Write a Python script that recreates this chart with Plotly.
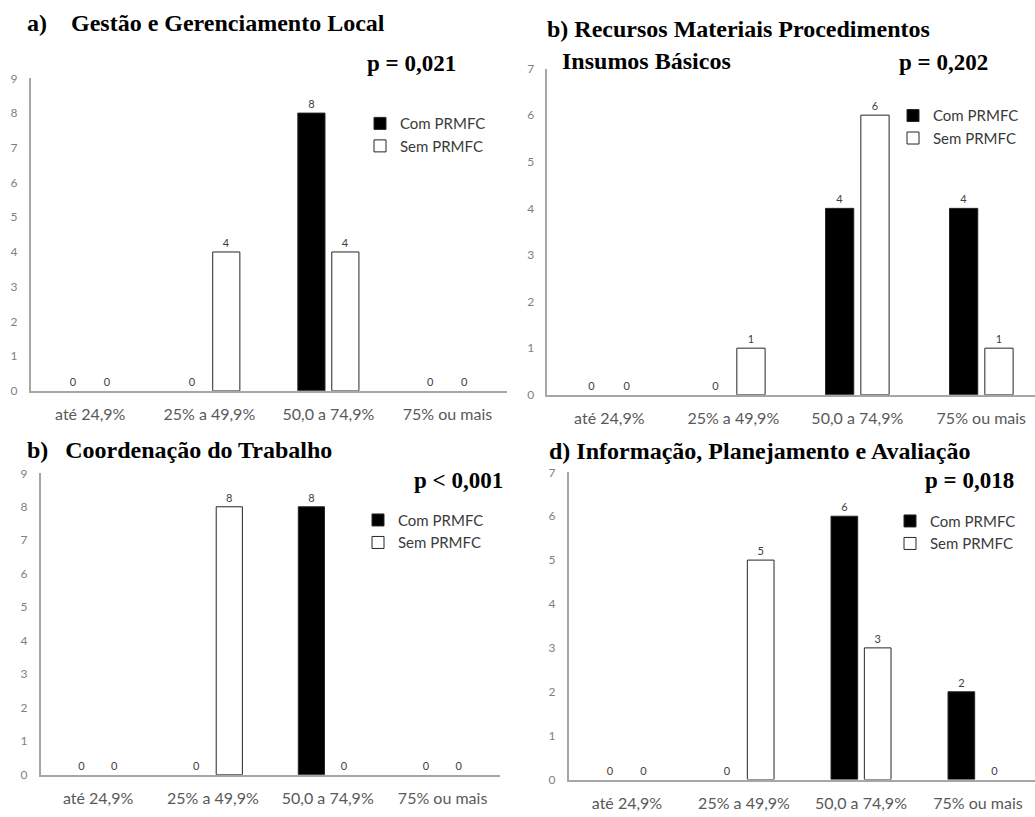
import plotly.graph_objects as go

W, H = 1035, 817

categories = ["até 24,9%", "25% a 49,9%", "50,0 a 74,9%", "75% ou mais"]

a_com = [0, 0, 8, 0]
a_sem = [0, 4, 4, 0]
b_com = [0, 0, 4, 4]
b_sem = [0, 1, 6, 1]
c_com = [0, 0, 8, 0]
c_sem = [0, 8, 0, 0]
d_com = [0, 0, 6, 2]
d_sem = [0, 5, 3, 0]

series_names = ["Com PRMFC", "Sem PRMFC"]

titles = [
    ("a)\u00a0\u00a0\u00a0 Gestão e Gerenciamento Local", 25, 15),
    ("b) Recursos Materiais Procedimentos", 545, 21),
    ("Insumos Básicos", 560, 54),
    ("b)\u00a0\u00a0\u2009Coordenação do Trabalho", 25, 450),
    ("d) Informação, Planejamento e Avaliação", 547, 451),
]
pvalues = [
    ("p = 0,021", 365, 57),
    ("p = 0,202", 897, 56),
    ("p < 0,001", 412, 481),
    ("p = 0,018", 923, 481),
]

def px(x):
    return x / W

def py(y):
    return 1 - y / H

panels = [
    # (com, sem, xaxis id, yaxis id, legend id, xdomain px, ydomain px (bottom, top), ymax, xrange_end, legend pos)
    (a_com, a_sem, "x", "y", "legend", (30.7, 507), (390, 71.7), 9, 3.5, (360, 129)),
    (b_com, b_sem, "x2", "y2", "legend2", (547.3, 1035), (394, 61.7), 7, 3.433, (893, 121)),
    (c_com, c_sem, "x3", "y3", "legend3", (40.7, 500), (781, 474), 9, 3.5, (358, 533)),
    (d_com, d_sem, "x4", "y4", "legend4", (568.5, 1035), (786, 473), 7, 3.487, (890, 534)),
]

fig = go.Figure()

sans = "Lato, Open Sans, sans-serif"
text_font = dict(family=sans, size=11, color="#404040")

layout = dict(
    width=W, height=H,
    margin=dict(l=0, r=0, t=0, b=0),
    paper_bgcolor="white", plot_bgcolor="white",
    barmode="group", bargap=0.43, bargroupgap=0.2,
    font=dict(family=sans),
)

for i, (com, sem, xa, ya, lg, xd, yd, ymax, xend, lpos) in enumerate(panels):
    for name, vals, fill in ((series_names[0], com, "black"), (series_names[1], sem, "white")):
        # non-zero points first so the legend symbol takes a visible outline;
        # the axis order is fixed by categoryarray below
        order = sorted(range(len(vals)), key=lambda k: vals[k] == 0)
        xs = [categories[k] for k in order]
        ys = [vals[k] for k in order]
        fig.add_trace(go.Bar(
            x=xs, y=ys, name=name,
            marker=dict(color=fill,
                        line=dict(color="#262626",
                                  width=[1 if v > 0 else 0 for v in ys])),
            text=[str(v) for v in ys], textposition="outside",
            textfont=text_font, cliponaxis=False,
            xaxis=xa, yaxis=ya, legend=lg, showlegend=True,
        ))
    xkey = "xaxis" if xa == "x" else "xaxis" + xa[1:]
    ykey = "yaxis" if ya == "y" else "yaxis" + ya[1:]
    layout[xkey] = dict(
        domain=[px(xd[0]), min(1.0, px(xd[1]))], anchor=ya,
        type="category", categoryorder="array", categoryarray=categories,
        range=[-0.5, xend], showline=True, linecolor="#a6a6a6", linewidth=1.5,
        showgrid=False, zeroline=False, ticks="",
        tickfont=dict(family=sans, size=16, color="#595959"),
        ticklabelstandoff=8, fixedrange=True,
    )
    layout[ykey] = dict(
        domain=[py(yd[0]), py(yd[1])], anchor=xa,
        range=[0, ymax], dtick=1, showline=True, linecolor="#a6a6a6", linewidth=1.5,
        showgrid=False, zeroline=False, ticks="",
        tickfont=dict(family=sans, size=12, color="#7f7f7f"),
        ticklabelstandoff=9, fixedrange=True,
    )
    layout[lg] = dict(
        x=px(lpos[0]), y=py(lpos[1]), xanchor="left", yanchor="middle",
        bgcolor="rgba(0,0,0,0)", borderwidth=0, tracegroupgap=0,
        font=dict(family=sans, size=15, color="#3a3a3a"),
    )

annotations = []
for txt, x, y in titles:
    annotations.append(dict(
        text="<b>" + txt + "</b>", x=px(x), y=py(y), xref="paper", yref="paper",
        xanchor="left", yanchor="middle", showarrow=False,
        font=dict(family="Liberation Serif, Times New Roman, serif", size=24, color="black"),
    ))
for txt, x, y in pvalues:
    annotations.append(dict(
        text="<b>" + txt + "</b>", x=px(x), y=py(y), xref="paper", yref="paper",
        xanchor="left", yanchor="middle", showarrow=False,
        font=dict(family="Liberation Serif, Times New Roman, serif", size=23, color="black"),
    ))
layout["annotations"] = annotations

fig.update_layout(**layout)
fig.write_html("out.html")
